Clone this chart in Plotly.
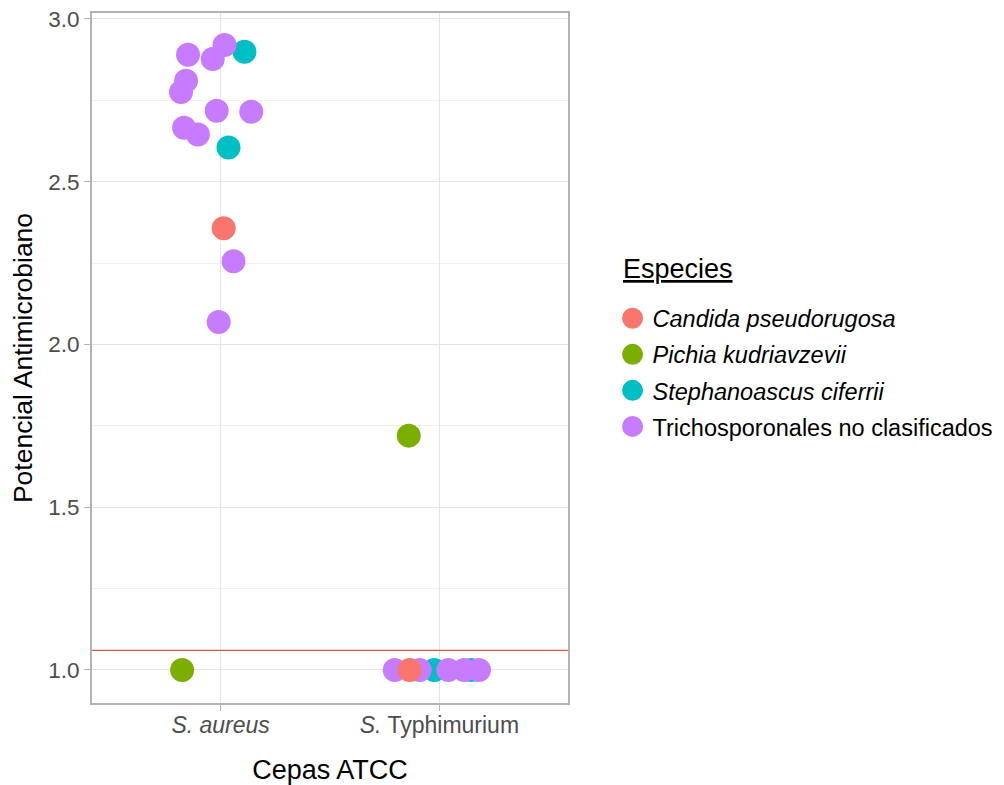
import plotly.graph_objects as go

# Categories (x axis)
cepas = ["S. aureus", "S. Typhimurium"]
cepa_labels = ["<i>S. aureus</i>", "<i>S.</i> Typhimurium"]

especies = ["Candida pseudorugosa", "Pichia kudriavzevii",
            "Stephanoascus ciferrii", "Trichosporonales no clasificados"]
especie_labels = ["<i>Candida pseudorugosa</i>", "<i>Pichia kudriavzevii</i>",
                  "<i>Stephanoascus ciferrii</i>", "Trichosporonales no clasificados"]
colores = ["#F8766D", "#7CAE00", "#00BFC4", "#C77CFF"]

# Points: strain index, jitter offset (as read), value, species index
pt_cepa = [0, 0, 0, 0, 0, 0, 0, 0, 0, 0, 0, 0, 0, 0, 0,
           1, 1, 1, 1, 1, 1, 1, 1, 1]
pt_jitter = [-0.149, 0.018, -0.036, 0.109, -0.158, -0.181, -0.018, 0.140,
             -0.167, -0.104, 0.036, 0.014, 0.059, -0.009, -0.176,
             -0.140, -0.204, -0.136, -0.090, -0.023, 0.041, 0.113, 0.145, 0.181]
pt_valor = [2.890, 2.920, 2.877, 2.899, 2.810, 2.776, 2.718, 2.715,
            2.666, 2.645, 2.605, 2.357, 2.256, 2.069, 1.000,
            1.720, 1.000, 1.000, 1.000, 1.000, 1.000, 1.000, 1.000, 1.000]
pt_especie = [3, 3, 3, 2, 3, 3, 3, 3, 3, 3, 2, 0, 3, 3, 1,
              1, 3, 0, 3, 2, 3, 3, 2, 3]

umbral = 1.06

y_ticks = [1.0, 1.5, 2.0, 2.5, 3.0]

fig = go.Figure()

draw_order = [2, 3, 0, 1]
for s in draw_order:
    xs = [pt_cepa[i] + pt_jitter[i] for i in range(len(pt_valor)) if pt_especie[i] == s]
    ys = [pt_valor[i] for i in range(len(pt_valor)) if pt_especie[i] == s]
    fig.add_trace(go.Scatter(
        x=xs, y=ys, mode="markers", name=especie_labels[s],
        legendrank=s + 1, legendgroup=especies[s],
        marker=dict(color=colores[s], size=19, line=dict(width=5, color=colores[s])),
    ))

fig.add_shape(type="line", xref="paper", yref="y", x0=0, x1=1, y0=umbral, y1=umbral,
              line=dict(color="#E5534B", width=1.2), layer="above")

font_family = "Liberation Sans, Arial, sans-serif"

fig.add_annotation(
    text="<u>Especies</u>", xref="paper", yref="paper", x=1.112, y=0.629,
    xanchor="left", yanchor="middle", showarrow=False,
    font=dict(size=27, color="black"),
)

fig.update_layout(
    width=996, height=777,
    margin=dict(l=84, r=431, t=5, b=82),
    paper_bgcolor="white", plot_bgcolor="white",
    font=dict(family=font_family, color="black"),
    legend=dict(
        font=dict(size=23.5, color="black"),
        x=1.0936, y=0.479, xanchor="left", yanchor="middle",
        itemsizing="trace", bgcolor="rgba(0,0,0,0)",
        traceorder="grouped", tracegroupgap=2.5,
    ),
    xaxis=dict(
        range=[-0.588, 1.588], tickmode="array", tickvals=[0, 1], ticktext=cepa_labels,
        automargin=False,
        showgrid=True, gridcolor="#E5E5E5", gridwidth=1, zeroline=False,
        showline=True, mirror=True, linecolor="#B3B3B3", linewidth=2,
        ticks="outside", ticklen=6, tickcolor="#B3B3B3",
        tickfont=dict(size=23, color="#4D4D4D"), ticklabelstandoff=-6,
        title=dict(text="Cepas ATCC", font=dict(size=27, color="black"), standoff=28),
    ),
    yaxis=dict(
        range=[0.8986, 3.0184], tickmode="array", tickvals=y_ticks,
        ticktext=[f"{v:.1f}" for v in y_ticks], ticklabeloverflow="allow",
        automargin=False,
        showgrid=True, gridcolor="#E5E5E5", gridwidth=1, zeroline=False,
        minor=dict(tickvals=[1.25, 1.75, 2.25, 2.75], showgrid=True,
                   gridcolor="#F0F0F0", gridwidth=0.6, ticks=""),
        showline=True, mirror=True, linecolor="#B3B3B3", linewidth=2,
        ticks="outside", ticklen=6, tickcolor="#B3B3B3",
        tickfont=dict(size=22.5, color="#4D4D4D"),
        title=dict(text="Potencial Antimicrobiano", font=dict(size=26.5, color="black"), standoff=10),
    ),
)

fig.write_html("out.html", config={"displayModeBar": False})
